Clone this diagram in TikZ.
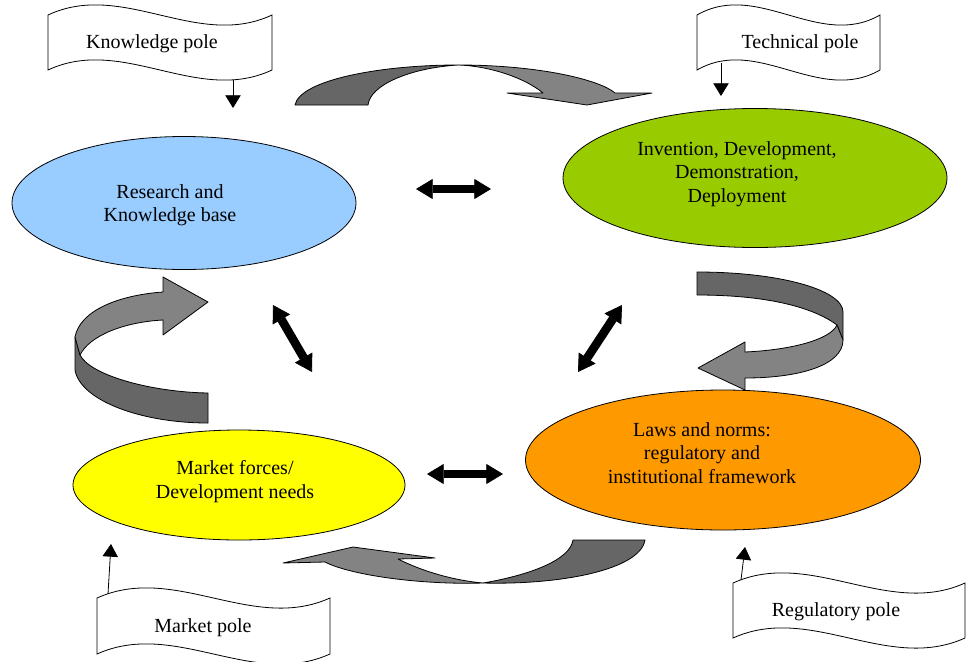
\documentclass[tikz,border=0pt]{standalone}
\usepackage{fontspec}
\setmainfont{Liberation Serif}
\usetikzlibrary{arrows.meta, shapes.geometric}

\definecolor{kbblue}{HTML}{99CCFF}
\definecolor{ddgreen}{HTML}{99CC00}
\definecolor{mfyellow}{HTML}{FFFF00}
\definecolor{lnorange}{HTML}{FF9900}
\definecolor{banddark}{HTML}{666666}
\definecolor{bandlight}{HTML}{838383}

% wavy flag: left x, top y, width, height
\newcommand{\waveflag}[4]{%
  \draw[flag] (#1,#2) .. controls (#1+#3/3,#2-35) and (#1+2*#3/3,#2+35) .. (#1+#3,#2)
    -- (#1+#3,#2+#4) .. controls (#1+2*#3/3,#2+#4+35) and (#1+#3/3,#2+#4-35) .. (#1,#2+#4) -- cycle;}

\begin{document}
\begin{tikzpicture}[x=0.75pt, y=-0.75pt,
    every node/.style={font=\fontsize{15}{17.6}\selectfont},
    every label/.style={align=center},
    sphere/.style={ellipse, draw, line width=0.6pt, inner sep=0pt},
    flag/.style={draw, fill=white, line width=0.6pt},
    pointer/.style={line width=0.6pt, -{Triangle[length=9.5pt,width=11.5pt]}},
    twoway/.style={line width=6.5pt,
      {Triangle[length=12.5pt,width=15pt,line width=0.5pt]}-{Triangle[length=12.5pt,width=15pt,line width=0.5pt]}},
    band/.style={draw, line width=0.6pt, line join=round}]
  \useasboundingbox (0,0) rectangle (967,661);

  % the four spheres, text set a little left of centre
  \node[sphere, fill=kbblue, minimum width=258pt, minimum height=99.75pt,
    label={[xshift=-10.5pt, yshift=-1.5pt]center:{Research and\\Knowledge base}}] (research) at (184,203) {};
  \node[sphere, fill=ddgreen, minimum width=288pt, minimum height=104.25pt,
    label={[xshift=-13.5pt, yshift=3pt]center:{Invention, Development,\\Demonstration,\\Deployment}}] (invention) at (755,178) {};
  \node[sphere, fill=mfyellow, minimum width=249pt, minimum height=82.5pt,
    label={[xshift=-3pt, yshift=2.6pt]center:{Market forces/\\Development needs}}] (market) at (239,485) {};
  \node[sphere, fill=lnorange, minimum width=296.25pt, minimum height=105pt,
    label={[xshift=-15.75pt, yshift=5.25pt]center:{Laws and norms:\\regulatory and\\institutional framework}}] (laws) at (723,460) {};

  % poles
  \waveflag{48}{15}{224}{55}
  \node (knowpole) at (152,44) {Knowledge pole};
  \waveflag{697}{15}{183}{55}
  \node (techpole) at (800,44) {Technical pole};
  \waveflag{97}{598}{233}{56}
  \node (marketpole) at (203,628) {Market pole};
  \waveflag{733}{583}{232}{55}
  \node (regpole) at (836,612) {Regulatory pole};

  \coordinate (k1) at (233,80);  \coordinate (k2) at (233,108);
  \coordinate (t1) at (721,63);  \coordinate (t2) at (721,96);
  \coordinate (m1) at (108,594); \coordinate (m2) at (111,544);
  \coordinate (r1) at (741,580); \coordinate (r2) at (745,547);
  \draw[pointer] (k1) -- (k2);
  \draw[pointer] (t1) -- (t2);
  \draw[pointer] (m1) -- (m2);
  \draw[pointer] (r1) -- (r2);

  % two-way links
  \coordinate (ri) at (416,189); \coordinate (ir) at (491,189);
  \coordinate (rm) at (273,305); \coordinate (mr) at (312,372);
  \coordinate (il) at (622,305); \coordinate (li) at (578,372);
  \coordinate (ml) at (427,474); \coordinate (lm) at (503,474);
  \draw[twoway] (ri) -- (ir);
  \draw[twoway] (rm) -- (mr);
  \draw[twoway] (il) -- (li);
  \draw[twoway] (ml) -- (lm);

  % cycle arrows, back half dark, front half light
  \filldraw[band, fill=banddark] (295,105) .. controls (300,80) and (380,65) .. (458,65)
    .. controls (410,68) and (370,85) .. (368,105) -- cycle;
  \filldraw[band, fill=bandlight] (458,65) .. controls (540,65) and (600,80) .. (615,93)
    -- (652,93) -- (587,105) -- (507,93) -- (543,93) .. controls (525,78) and (490,66) .. (458,65) -- cycle;

  \filldraw[band, fill=banddark] (697,272) .. controls (780,272) and (843,290) .. (843,312)
    -- (843,340) -- (837,325) .. controls (810,305) and (760,295) .. (697,295) -- cycle;
  \filldraw[band, fill=bandlight] (837,325) .. controls (830,340) and (790,350) .. (745,352)
    -- (745,342) -- (698,368) -- (745,390) -- (745,378) .. controls (800,378) and (843,365) .. (843,340) -- cycle;

  \filldraw[band, fill=banddark] (483,583) .. controls (530,575) and (570,560) .. (573,540)
    -- (645,540) .. controls (640,570) and (560,585) .. (483,583) -- cycle;
  \filldraw[band, fill=bandlight] (483,583) .. controls (420,585) and (350,575) .. (325,562)
    -- (283,563) -- (353,547) -- (435,558) -- (398,559) .. controls (420,570) and (450,580) .. (483,583) -- cycle;

  \filldraw[band, fill=banddark] (75,337) -- (75,370) .. controls (80,400) and (140,423) .. (208,423)
    -- (208,393) .. controls (150,392) and (90,375) .. (80,355) -- cycle;
  \filldraw[band, fill=bandlight] (75,337) .. controls (80,310) and (120,295) .. (163,292)
    -- (163,277) -- (208,302) -- (163,335) -- (163,320) .. controls (125,322) and (90,335) .. (80,355) -- cycle;
\end{tikzpicture}
\end{document}
